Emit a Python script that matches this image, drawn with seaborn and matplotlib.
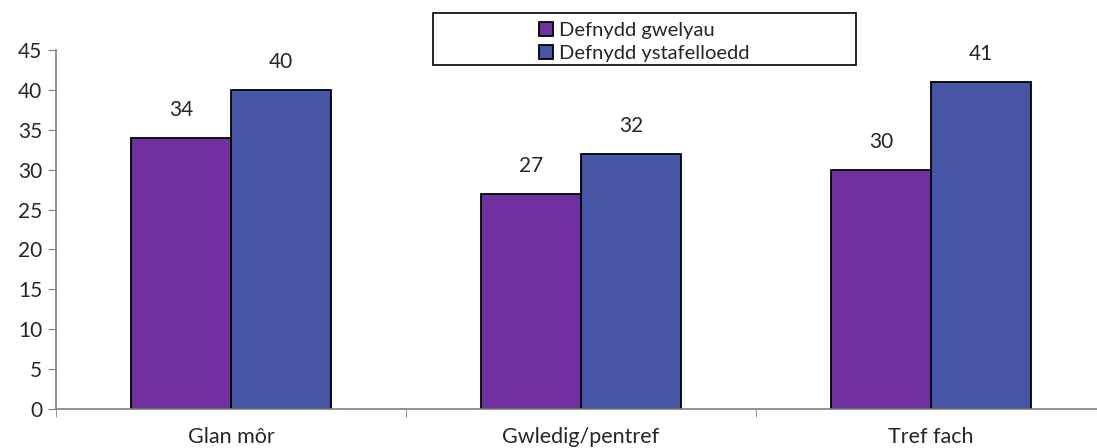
import numpy as np
import pandas as pd
import matplotlib
matplotlib.use('Agg')
import matplotlib.pyplot as plt
import matplotlib.patches as mpatches
import seaborn as sns

# data
categories = ['Glan môr', 'Gwledig/pentref', 'Tref fach']
series = ['Defnydd gwelyau', 'Defnydd ystafelloedd']
beds = [34, 27, 30]
rooms = [40, 32, 41]
colors = ['#7030A0', '#4655A5']

df = pd.DataFrame({
    'cat': categories * 2,
    'series': [series[0]] * 3 + [series[1]] * 3,
    'value': beds + rooms,
})

sns.set_style('white')
plt.rcParams['font.family'] = ['Lato', 'DejaVu Sans']

fig = plt.figure(figsize=(10.97, 4.48), dpi=100)
ax = fig.add_axes([56 / 1097, 39 / 448, 1050 / 1097, 359 / 448])

sns.barplot(data=df, x='cat', y='value', hue='series', palette=colors,
            width=0.572, edgecolor='black', linewidth=1.3, saturation=1,
            legend=False, ax=ax)

for cont in ax.containers:
    ax.bar_label(cont, padding=13, fontsize=15)

ax.set_xlim(-0.5, 2.5)
ax.set_ylim(0, 45)
ax.set_yticks(np.arange(0, 46, 5))
ax.tick_params(axis='y', labelsize=15, length=6, color='#808080', direction='out', left=True, pad=4)
ax.set_xticks(range(3))
ax.set_xticklabels(categories, fontsize=15.5)
ax.tick_params(axis='x', which='major', length=0, pad=13)
ax.set_xticks([-0.5, 0.5, 1.5, 2.5], minor=True)
ax.tick_params(axis='x', which='minor', length=6, color='#808080', direction='out', bottom=True)
ax.set_xlabel('')
ax.set_ylabel('')
for s in ['top', 'right']:
    ax.spines[s].set_visible(False)
for s in ['left', 'bottom']:
    ax.spines[s].set_color('#808080')
    ax.spines[s].set_linewidth(1.2)

# legend box
fig.patches.append(mpatches.Rectangle((433 / 1097, 383 / 448), 423 / 1097, 52 / 448,
                                      transform=fig.transFigure, facecolor='white',
                                      edgecolor='black', linewidth=1.2))
handles = [mpatches.Patch(facecolor=c, edgecolor='black', linewidth=1.3) for c in colors]
fig.legend(handles, series, loc='upper left', bbox_to_anchor=(527 / 1097, 438 / 448),
           frameon=False, fontsize=14.5, handlelength=0.7, handleheight=0.7,
           handletextpad=0.3, labelspacing=0.3, borderpad=0.1)

fig.savefig('out.png', dpi=100)
